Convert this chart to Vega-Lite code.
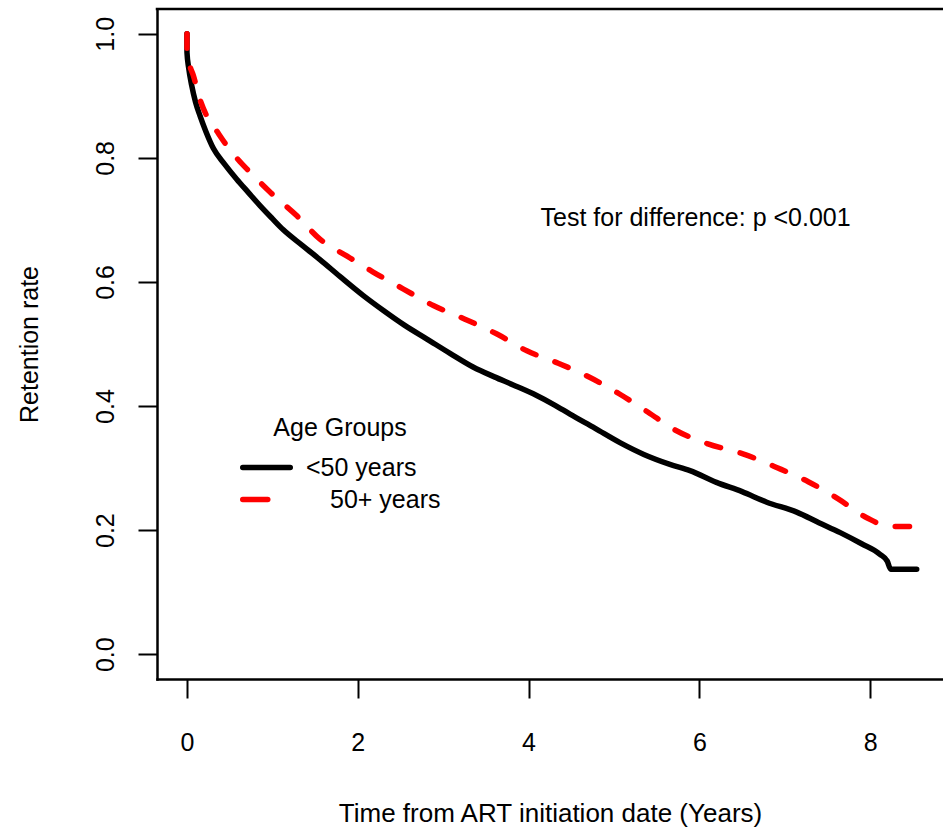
{
  "$schema": "https://vega.github.io/schema/vega-lite/v6.json",
  "width": 786,
  "height": 670,
  "autosize": {"type": "none"},
  "padding": {"left": 157, "top": 9, "right": 0, "bottom": 149},
  "background": "white",
  "config": {
    "view": {"stroke": null},
    "font": "Liberation Sans",
    "axis": {
      "grid": false,
      "domainColor": "black",
      "domainWidth": 2.5,
      "domainCap": "square",
      "tickColor": "black",
      "tickWidth": 2,
      "tickSize": 19,
      "labelFont": "Liberation Sans",
      "labelFontSize": 25,
      "labelColor": "black",
      "titleFont": "Liberation Sans",
      "titleFontSize": 25,
      "titleFontWeight": "normal",
      "titleColor": "black"
    },
    "legend": {
      "orient": "none",
      "legendX": 83,
      "legendY": 407,
      "titleFontSize": 25,
      "titleFontWeight": "normal",
      "titleColor": "black",
      "titleAnchor": "middle",
      "titlePadding": 14,
      "labelFontSize": 25,
      "labelColor": "black",
      "labelOffset": 27,
      "rowPadding": 6,
      "symbolType": "M-3.8,0H3.8",
      "symbolSize": 156.25,
      "symbolOffset": 14,
      "symbolStrokeWidth": 5.5
    }
  },
  "datasets": {
    "curves": [
      {"group": "<50 years", "i": 0, "t": 0, "v": 1.0},
      {"group": "<50 years", "i": 1, "t": 0, "v": 0.97},
      {"group": "<50 years", "i": 2, "t": 0.02, "v": 0.945},
      {"group": "<50 years", "i": 3, "t": 0.055, "v": 0.917},
      {"group": "<50 years", "i": 4, "t": 0.1, "v": 0.89},
      {"group": "<50 years", "i": 5, "t": 0.152, "v": 0.868},
      {"group": "<50 years", "i": 6, "t": 0.22, "v": 0.843},
      {"group": "<50 years", "i": 7, "t": 0.31, "v": 0.815},
      {"group": "<50 years", "i": 8, "t": 0.44, "v": 0.79},
      {"group": "<50 years", "i": 9, "t": 0.58, "v": 0.766},
      {"group": "<50 years", "i": 10, "t": 0.72, "v": 0.744},
      {"group": "<50 years", "i": 11, "t": 0.855, "v": 0.723},
      {"group": "<50 years", "i": 12, "t": 1.0, "v": 0.702},
      {"group": "<50 years", "i": 13, "t": 1.128, "v": 0.684},
      {"group": "<50 years", "i": 14, "t": 1.35, "v": 0.659},
      {"group": "<50 years", "i": 15, "t": 1.557, "v": 0.636},
      {"group": "<50 years", "i": 16, "t": 1.79, "v": 0.609},
      {"group": "<50 years", "i": 17, "t": 2.065, "v": 0.578},
      {"group": "<50 years", "i": 18, "t": 2.3, "v": 0.554},
      {"group": "<50 years", "i": 19, "t": 2.55, "v": 0.53},
      {"group": "<50 years", "i": 20, "t": 2.81, "v": 0.508},
      {"group": "<50 years", "i": 21, "t": 3.08, "v": 0.485},
      {"group": "<50 years", "i": 22, "t": 3.35, "v": 0.463},
      {"group": "<50 years", "i": 23, "t": 3.6, "v": 0.447},
      {"group": "<50 years", "i": 24, "t": 3.82, "v": 0.434},
      {"group": "<50 years", "i": 25, "t": 4.095, "v": 0.417},
      {"group": "<50 years", "i": 26, "t": 4.3, "v": 0.402},
      {"group": "<50 years", "i": 27, "t": 4.485, "v": 0.387},
      {"group": "<50 years", "i": 28, "t": 4.78, "v": 0.364},
      {"group": "<50 years", "i": 29, "t": 5.07, "v": 0.341},
      {"group": "<50 years", "i": 30, "t": 5.35, "v": 0.322},
      {"group": "<50 years", "i": 31, "t": 5.655, "v": 0.306},
      {"group": "<50 years", "i": 32, "t": 5.89, "v": 0.296},
      {"group": "<50 years", "i": 33, "t": 6.2, "v": 0.277},
      {"group": "<50 years", "i": 34, "t": 6.5, "v": 0.262},
      {"group": "<50 years", "i": 35, "t": 6.79, "v": 0.245},
      {"group": "<50 years", "i": 36, "t": 7.14, "v": 0.229},
      {"group": "<50 years", "i": 37, "t": 7.4, "v": 0.212},
      {"group": "<50 years", "i": 38, "t": 7.65, "v": 0.196},
      {"group": "<50 years", "i": 39, "t": 7.9, "v": 0.178},
      {"group": "<50 years", "i": 40, "t": 8.115, "v": 0.161},
      {"group": "<50 years", "i": 41, "t": 8.2, "v": 0.15},
      {"group": "<50 years", "i": 42, "t": 8.24, "v": 0.137},
      {"group": "<50 years", "i": 43, "t": 8.545, "v": 0.137},
      {"group": "50+ years", "i": 0, "t": 0, "v": 1.0},
      {"group": "50+ years", "i": 1, "t": 0, "v": 0.97},
      {"group": "50+ years", "i": 2, "t": 0.03, "v": 0.95},
      {"group": "50+ years", "i": 3, "t": 0.074, "v": 0.933},
      {"group": "50+ years", "i": 4, "t": 0.15, "v": 0.895},
      {"group": "50+ years", "i": 5, "t": 0.23, "v": 0.868},
      {"group": "50+ years", "i": 6, "t": 0.35, "v": 0.843},
      {"group": "50+ years", "i": 7, "t": 0.465, "v": 0.82},
      {"group": "50+ years", "i": 8, "t": 0.6, "v": 0.797},
      {"group": "50+ years", "i": 9, "t": 0.738, "v": 0.777},
      {"group": "50+ years", "i": 10, "t": 0.972, "v": 0.745},
      {"group": "50+ years", "i": 11, "t": 1.284, "v": 0.707},
      {"group": "50+ years", "i": 12, "t": 1.557, "v": 0.669},
      {"group": "50+ years", "i": 13, "t": 1.87, "v": 0.642},
      {"group": "50+ years", "i": 14, "t": 2.18, "v": 0.616},
      {"group": "50+ years", "i": 15, "t": 2.53, "v": 0.589},
      {"group": "50+ years", "i": 16, "t": 2.885, "v": 0.562},
      {"group": "50+ years", "i": 17, "t": 3.255, "v": 0.54},
      {"group": "50+ years", "i": 18, "t": 3.63, "v": 0.516},
      {"group": "50+ years", "i": 19, "t": 3.98, "v": 0.489},
      {"group": "50+ years", "i": 20, "t": 4.33, "v": 0.47},
      {"group": "50+ years", "i": 21, "t": 4.72, "v": 0.446},
      {"group": "50+ years", "i": 22, "t": 5.07, "v": 0.419},
      {"group": "50+ years", "i": 23, "t": 5.4, "v": 0.39},
      {"group": "50+ years", "i": 24, "t": 5.695, "v": 0.363},
      {"group": "50+ years", "i": 25, "t": 6.1, "v": 0.339},
      {"group": "50+ years", "i": 26, "t": 6.51, "v": 0.323},
      {"group": "50+ years", "i": 27, "t": 6.905, "v": 0.301},
      {"group": "50+ years", "i": 28, "t": 7.275, "v": 0.278},
      {"group": "50+ years", "i": 29, "t": 7.63, "v": 0.25},
      {"group": "50+ years", "i": 30, "t": 7.96, "v": 0.22},
      {"group": "50+ years", "i": 31, "t": 8.23, "v": 0.206},
      {"group": "50+ years", "i": 32, "t": 8.505, "v": 0.206}
    ],
    "note": [
      {"label": "Test for difference: p <0.001", "t": 4.14, "v": 0.69}
    ]
  },
  "layer": [
    {
      "data": {"values": [{}]},
      "mark": {"type": "rule", "color": "black", "strokeWidth": 2.5, "strokeCap": "square"},
      "encoding": {
        "y": {"datum": 1.04, "type": "quantitative", "scale": {"domain": [-0.04, 1.04], "nice": false, "zero": false}}
      }
    },
    {
      "data": {"name": "curves"},
      "transform": [{"filter": "datum.group === '<50 years'"}],
      "mark": {"type": "line", "strokeWidth": 5.5, "strokeCap": "round", "strokeJoin": "round", "interpolate": "monotone"},
      "encoding": {
        "x": {
          "field": "t", "type": "quantitative",
          "scale": {"domain": [-0.351, 8.853], "nice": false, "zero": false},
          "axis": {
            "values": [0, 2, 4, 6, 8],
            "format": "d",
            "labelPadding": 32,
            "title": "Time from ART initiation date (Years)",
            "titleFontSize": 26,
            "titleY": 142,
            "titleBaseline": "alphabetic"
          }
        },
        "y": {
          "field": "v", "type": "quantitative",
          "scale": {"domain": [-0.04, 1.04], "nice": false, "zero": false},
          "axis": {
            "values": [0, 0.2, 0.4, 0.6, 0.8, 1.0],
            "format": ".1f",
            "labelAngle": -90,
            "labelAlign": "center",
            "labelBaseline": "alphabetic",
            "labelPadding": 25,
            "title": "Retention rate",
            "titleAngle": -90,
            "titleAlign": "center",
            "titleBaseline": "alphabetic",
            "titleX": -120,
            "titleY": 335
          }
        },
        "color": {
          "field": "group", "type": "nominal",
          "scale": {"domain": ["<50 years", "50+ years"], "range": ["#000000", "#ff0000"]},
          "legend": {
            "title": "Age Groups",
            "encode": {
              "symbols": {
                "update": {
                  "strokeDash": {"signal": "datum.value === '50+ years' ? [25, 100] : [1, 0]"},
                  "strokeCap": {"value": "round"}
                }
              },
              "labels": {
                "update": {
                  "dx": {"signal": "datum.value === '50+ years' ? 24 : 0"}
                }
              }
            }
          }
        },
        "order": {"field": "i", "type": "quantitative"}
      }
    },
    {
      "data": {"name": "curves"},
      "transform": [{"filter": "datum.group === '50+ years'"}],
      "mark": {"type": "line", "strokeWidth": 5.5, "strokeCap": "round", "strokeJoin": "round", "interpolate": "monotone", "strokeDash": [14.3, 20.3]},
      "encoding": {
        "x": {"field": "t", "type": "quantitative"},
        "y": {"field": "v", "type": "quantitative"},
        "color": {
          "field": "group", "type": "nominal",
          "legend": {
            "title": "Age Groups",
            "encode": {
              "symbols": {
                "update": {
                  "strokeDash": {"signal": "datum.value === '50+ years' ? [25, 100] : [1, 0]"},
                  "strokeCap": {"value": "round"}
                }
              },
              "labels": {
                "update": {
                  "dx": {"signal": "datum.value === '50+ years' ? 24 : 0"}
                }
              }
            }
          }
        },
        "order": {"field": "i", "type": "quantitative"}
      }
    },
    {
      "data": {"name": "note"},
      "mark": {"type": "text", "align": "left", "baseline": "alphabetic", "fontSize": 25, "color": "black", "font": "Liberation Sans"},
      "encoding": {
        "x": {"field": "t", "type": "quantitative"},
        "y": {"field": "v", "type": "quantitative"},
        "text": {"field": "label"}
      }
    }
  ]
}
